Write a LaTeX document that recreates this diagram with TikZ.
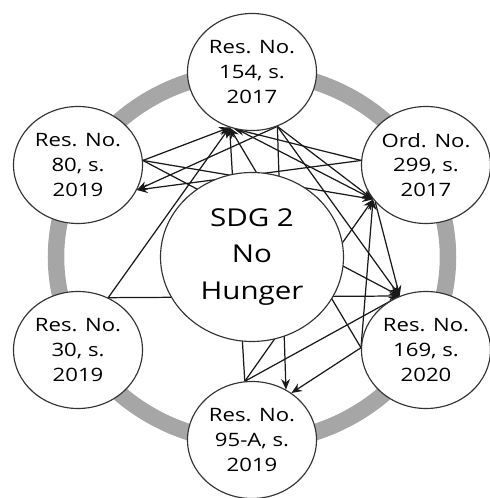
\documentclass[tikz,border=0pt]{standalone}
\usepackage{fontspec}
\setmainfont{Open Sans}[FakeStretch=1.2]
\usetikzlibrary{shapes.geometric, arrows.meta, backgrounds}

\begin{document}
\begin{tikzpicture}[
        policy/.style={ellipse, draw=black!80, fill=white, line width=0.65pt, minimum width=2.58cm, minimum height=2.34cm, inner sep=0pt, font=\fontsize{10.5}{14}\selectfont, align=center},
        goal/.style={ellipse, draw=black!80, fill=white, line width=0.65pt, minimum width=3.66cm, minimum height=3.38cm, inner sep=0pt, font=\fontsize{14}{21}\selectfont, align=center},
        ring/.style={draw=black!35, line width=0.33cm},
        arrow/.style={-{Stealth[length=6pt,width=5pt]}, line width=0.7pt, color=black!90}
    ]
        \useasboundingbox (-5.04,-4.82) rectangle (4.74,5.14);

        % Goal
        \node[goal] (sdg) at (0, 0) {SDG 2\\No\\Hunger};

        % Local policies
        \node[policy] (res154) at (0, 3.70) {Res. No.\\154, s.\\2017};
        \node[policy] (ord299) at (3.48, 1.84) {Ord. No.\\299, s.\\2017};
        \node[policy] (res169) at (3.48, -1.86) {Res. No.\\169, s.\\2020};
        \node[policy] (res95a) at (0, -3.66) {Res. No.\\95-A, s.\\2019};
        \node[policy] (res30) at (-3.48, -1.86) {Res. No.\\30, s.\\2019};
        \node[policy] (res80) at (-3.48, 1.84) {Res. No.\\80, s.\\2019};

        \begin{pgfonlayer}{background}
        % Ring
        \draw[ring] (sdg.center) ellipse [x radius=3.92cm, y radius=3.70cm];

        % Connections
        \draw[arrow] (res80.4) -- (res154.248);
        \draw[arrow] (res80.4) -- (ord299.213);
        \draw[arrow] (res80.4) -- (res169.116);

        \draw[arrow] (res154.295) -- (res80.-23);
        \draw[arrow] (res154.295) -- (ord299.213);
        \draw[arrow] (res154.256) -- (ord299.213);
        \draw[arrow] (res154.295) -- (res169.116);
        \draw[arrow] (res154.295) -- (res95a.56);

        \draw[arrow] (ord299.176) -- (res80.-23);
        \draw[arrow] (ord299.176) -- (res154.252);
        \draw[arrow] (ord299.216) -- (res169.116);

        \draw[arrow] (res169.178) -- (res154.248);
        \draw[arrow] (res169.178) -- (ord299.213);
        \draw[arrow] (res169.178) -- (res95a.50);

        \draw[arrow] (res95a.97) -- (res154.248);
        \draw[arrow] (res95a.97) -- (ord299.213);
        \draw[arrow] (res95a.97) -- (res169.116);

        \draw[arrow] (res30.60) -- (res154.248);
        \draw[arrow] (res30.60) -- (res169.116);
        \end{pgfonlayer}
\end{tikzpicture}
\end{document}
